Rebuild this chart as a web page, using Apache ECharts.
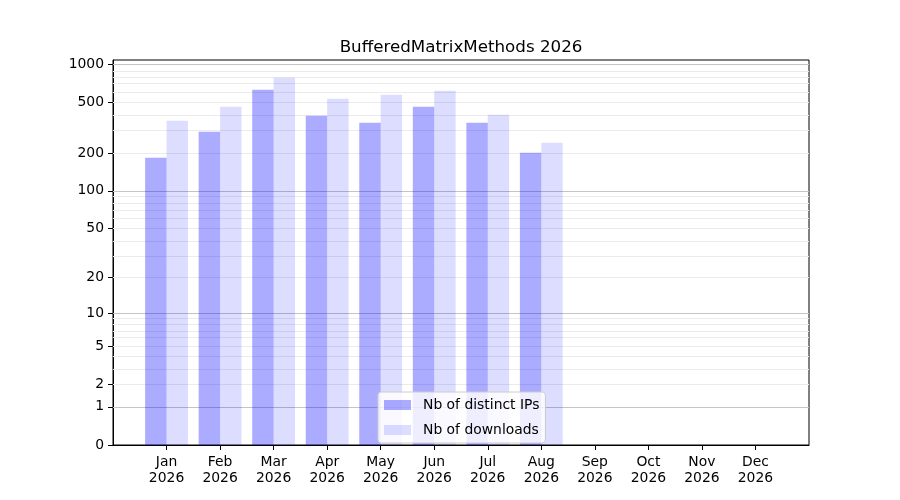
<!doctype html>
<html>
<head>
<meta charset="UTF-8">
<title>BufferedMatrixMethods 2026</title>
<script src="https://cdn.jsdelivr.net/npm/echarts@6/dist/echarts.min.js"></script>
<style>
  html, body { margin: 0; padding: 0; background: #fff; }
  #chart { width: 900px; height: 500px; }
</style>
</head>
<body>
<div id="chart"></div>
<script>
var months = ['Jan', 'Feb', 'Mar', 'Apr', 'May', 'Jun', 'Jul', 'Aug', 'Sep', 'Oct', 'Nov', 'Dec'];
var year = '2026';
var ips = [183, 294, 633, 394, 347, 464, 347, 201, 0, 0, 0, 0];
var downloads = [360, 464, 787, 537, 578, 621, 401, 241, 0, 0, 0, 0];
var tickValues = [0, 1, 2, 5, 10, 20, 50, 100, 200, 500, 1000];
var majorLines = [1, 10, 100, 1000];
var minorLines = [2, 3, 4, 5, 6, 7, 8, 9, 20, 30, 40, 50, 60, 70, 80, 90, 200, 300, 400, 500, 600, 700, 800, 900];

// y axis is log10(n + 1)
function tr(v) { return Math.log10(v + 1); }

var font = 'DejaVu Sans';
// one empty slot on each side, like the plot's x limits
var cats = [''].concat(months.map(function (m) { return m + '\n' + year; }), ['']);
function pad(arr) { return [null].concat(arr.map(tr), [null]); }

var chart = echarts.init(document.getElementById('chart'));
chart.setOption({
  animation: false,
  title: {
    text: 'BufferedMatrixMethods 2026',
    left: 456, top: 34, textAlign: 'center',
    textStyle: { fontFamily: font, fontSize: 16.7, fontWeight: 'normal', color: '#000' }
  },
  grid: {
    left: 113, right: 91, top: 60, bottom: 55,
    show: true, borderColor: '#000', borderWidth: 1, backgroundColor: 'transparent'
  },
  legend: {
    orient: 'vertical',
    left: 378, top: 392,
    itemWidth: 27, itemHeight: 10, itemGap: 11,
    padding: [6, 6, 6, 6],
    icon: 'rect',
    backgroundColor: 'rgba(255,255,255,0.8)',
    borderColor: '#cccccc', borderWidth: 1, borderRadius: 3,
    textStyle: { fontFamily: font, fontSize: 13.9, color: '#000', padding: [0, 0, 0, 7] },
    data: ['Nb of distinct IPs', 'Nb of downloads']
  },
  xAxis: {
    type: 'category',
    data: cats,
    boundaryGap: false,
    axisLine: { lineStyle: { color: '#000', width: 1 } },
    axisTick: {
      length: 5, inside: false,
      interval: function (i) { return i > 0 && i < cats.length - 1; },
      lineStyle: { color: '#000' }
    },
    axisLabel: {
      interval: 0, margin: 9,
      fontFamily: font, fontSize: 13.9, lineHeight: 16, color: '#000'
    },
    splitLine: { show: false }
  },
  yAxis: {
    type: 'value',
    min: 0, max: 3.036,
    axisLine: { show: true, lineStyle: { color: '#000', width: 1 } },
    axisTick: { show: true, length: 5, customValues: tickValues.map(tr), lineStyle: { color: '#000' } },
    axisLabel: {
      customValues: tickValues.map(tr), margin: 9,
      fontFamily: font, fontSize: 13.9, color: '#000',
      formatter: function (v) { return String(Math.round(Math.pow(10, v) - 1)); }
    },
    splitLine: { show: false }
  },
  series: [
    {
      name: 'Nb of distinct IPs',
      type: 'bar',
      data: pad(ips),
      barWidth: '40%', barGap: '0%',
      itemStyle: { color: 'rgba(0,0,255,0.33)' },
      markLine: {
        silent: true, symbol: 'none', label: { show: false }, z: 1,
        data: minorLines.map(function (v) {
          return { yAxis: tr(v), lineStyle: { color: '#ebebeb', width: 1, type: 'solid' } };
        }).concat(majorLines.map(function (v) {
          return { yAxis: tr(v), lineStyle: { color: '#c4c4c4', width: 1, type: 'solid' } };
        }))
      }
    },
    {
      name: 'Nb of downloads',
      type: 'bar',
      data: pad(downloads),
      barWidth: '40%', barGap: '0%',
      itemStyle: { color: 'rgba(0,0,255,0.135)' }
    }
  ]
});
</script>
</body>
</html>
